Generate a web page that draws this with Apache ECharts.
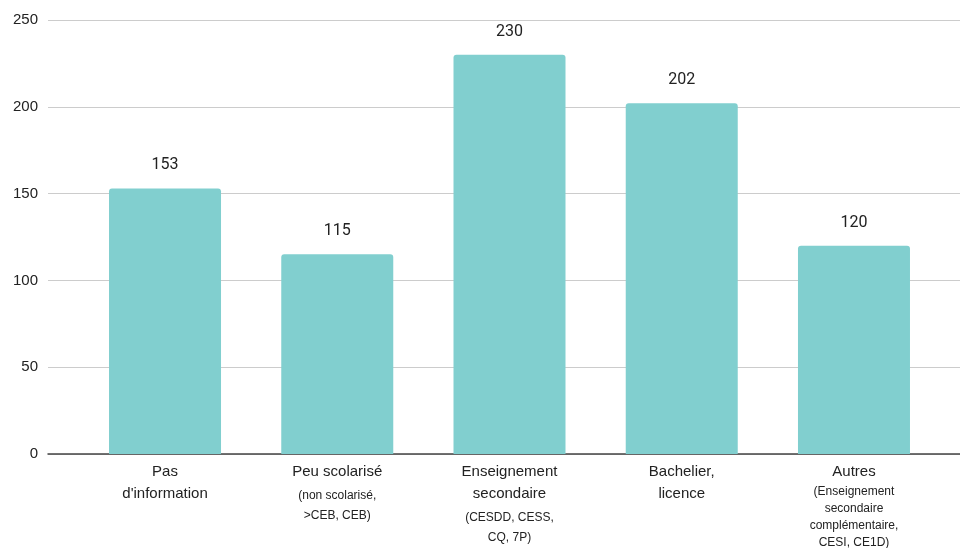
<!DOCTYPE html>
<html lang="fr">
<head>
    <meta charset="UTF-8">
    <title>Niveau d'études</title>
    <script src="https://cdn.jsdelivr.net/npm/echarts@6/dist/echarts.min.js"></script>
</head>
<style>
    html, body { margin: 0; padding: 0; background-color: #FFFFFF; }
</style>
<body>
<div id="main" style="width: 960px;height:548px;"></div>
<script>
    // données
    var categories = ['Pas\nd\'information', 'Peu scolarisé', 'Enseignement\nsecondaire', 'Bachelier,\nlicence', 'Autres'];
    var subtitles = ['', '(non scolarisé,\n>CEB, CEB)', '(CESDD, CESS,\nCQ, 7P)', '', '(Enseignement\nsecondaire\ncomplémentaire,\nCESI, CE1D)'];
    var values = [153, 115, 230, 202, 120];
    var yTicks = [0, 50, 100, 150, 200, 250];

    var myChart = echarts.init(document.getElementById('main'));

    // libellé d'axe : titre + sous-titre plus petit
    function xLabel(v, i) {
        var s = '{a|' + v.split('\n').join('}\n{a|') + '}';
        var sub = subtitles[i] ? subtitles[i].split('\n') : [];
        if (sub.length > 2) {
            s += '\n{c|' + sub.join('}\n{c|') + '}';
        } else if (sub.length) {
            s += '\n{b1|' + sub[0] + '}';
            for (var k = 1; k < sub.length; k++) s += '\n{b|' + sub[k] + '}';
        }
        return s;
    }

    var option = {
        backgroundColor: '#FFFFFF',
        animation: false,
        grid: [
            // grille pleine largeur : lignes de repère et axe
            { left: 48, right: 0, top: 20, bottom: 94, outerBoundsMode: 'none', containLabel: false },
            // grille des barres
            { left: 78.9, right: 19.9, top: 20, bottom: 94, outerBoundsMode: 'none', containLabel: false }
        ],
        xAxis: [
            {
                type: 'category', gridIndex: 0, data: [''],
                axisLine: { show: true, lineStyle: { color: '#444', width: 1.5 } },
                axisTick: { show: false },
                axisLabel: { show: false }
            },
            {
                type: 'category', gridIndex: 1, data: categories,
                axisLine: { show: false },
                axisTick: { show: false },
                axisLabel: {
                    interval: 0,
                    margin: 7,
                    formatter: xLabel,
                    rich: {
                        a: { fontFamily: 'Liberation Sans', fontSize: 15, color: '#222', lineHeight: 22 },
                        b1: { fontFamily: 'Liberation Sans', fontSize: 12, color: '#222', lineHeight: 26 },
                        b: { fontFamily: 'Liberation Sans', fontSize: 12, color: '#222', lineHeight: 14 },
                        c: { fontFamily: 'Liberation Sans', fontSize: 12, color: '#222', lineHeight: 17 }
                    }
                }
            }
        ],
        yAxis: [
            {
                type: 'value', gridIndex: 0,
                min: yTicks[0], max: yTicks[yTicks.length - 1], interval: 50,
                axisLine: { show: false },
                axisTick: { show: false },
                axisLabel: {
                    margin: 10,
                    fontFamily: 'Liberation Sans', fontSize: 15, color: '#222'
                },
                splitLine: { lineStyle: { color: '#CCCCCC', width: 1 } }
            },
            {
                type: 'value', gridIndex: 1,
                min: yTicks[0], max: yTicks[yTicks.length - 1], interval: 50,
                show: false
            }
        ],
        series: [
            {
                name: 'Nombre',
                type: 'bar',
                xAxisIndex: 1,
                yAxisIndex: 1,
                barWidth: 112,
                data: values,
                itemStyle: { color: '#81CFCF', borderRadius: [3, 3, 0, 0] },
                label: {
                    show: true,
                    position: 'top',
                    distance: 15,
                    fontFamily: 'Roboto', fontSize: 16, color: '#222'
                }
            }
        ]
    };

    myChart.setOption(option);
</script>
</body>
</html>
